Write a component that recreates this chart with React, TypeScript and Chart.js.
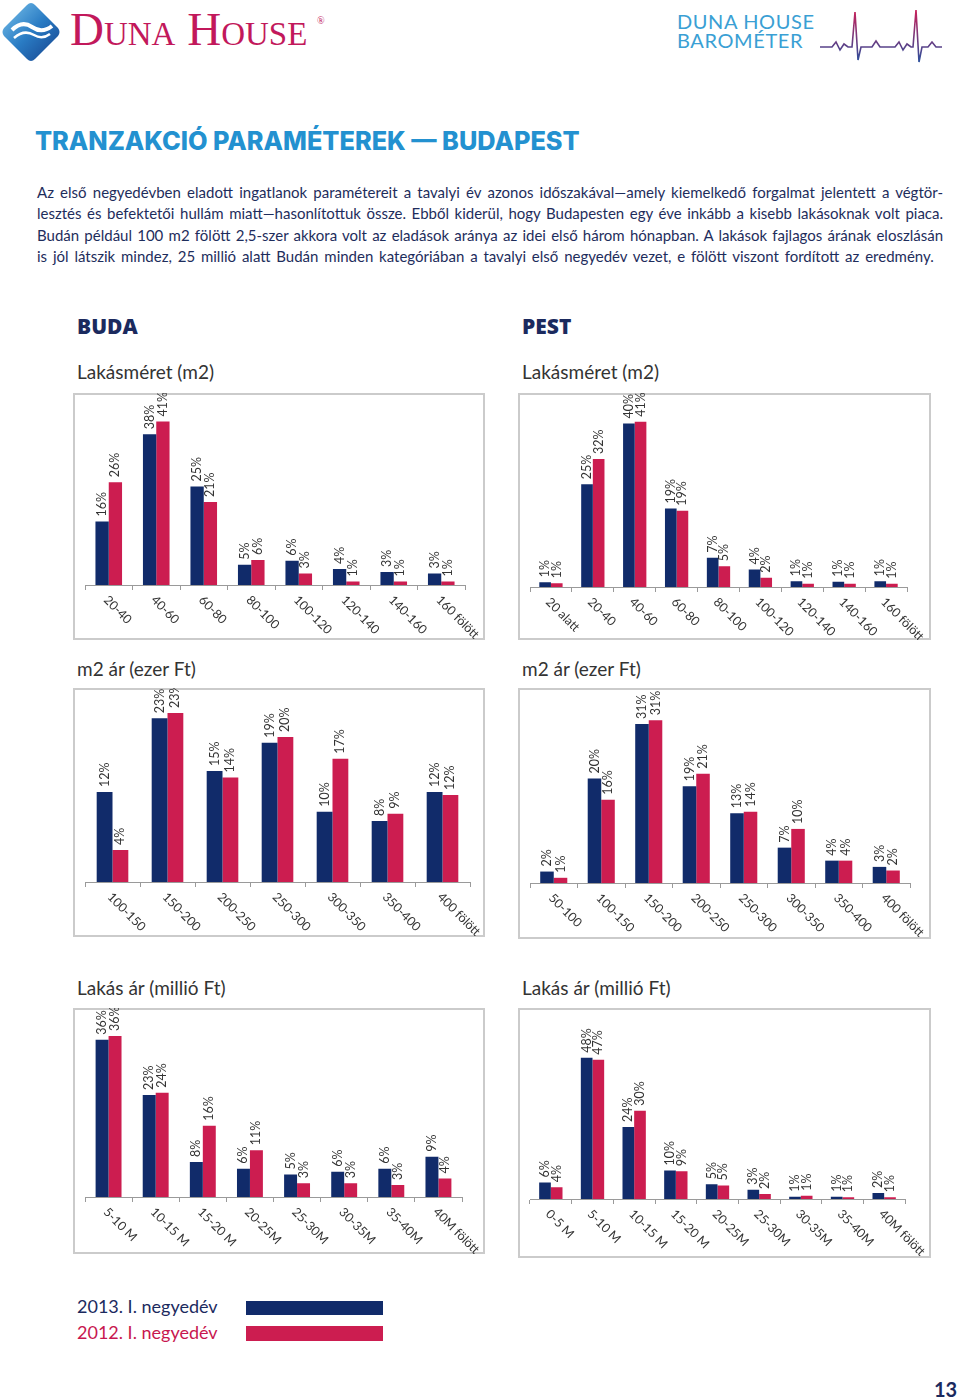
import React, { useEffect, useRef } from 'react';
import { Chart, registerables } from 'chart.js';
Chart.register(...registerables);

const NAVY = '#112b6a';
const CRIMSON = '#cc1d50';

const seriesNames = ['2013. I. negyedév', '2012. I. negyedév'];

const budaSizeCats = ['20-40', '40-60', '60-80', '80-100', '100-120', '120-140', '140-160', '160 fölött'];
const budaSize2013 = [16.0, 38.0, 24.8, 5.1, 6.1, 4.0, 3.3, 2.9];
const budaSize2012 = [25.9, 41.2, 20.9, 6.3, 2.9, 0.9, 0.9, 0.9];

const pestSizeCats = ['20 alatt', '20-40', '40-60', '60-80', '80-100', '100-120', '120-140', '140-160', '160 fölött'];
const pestSize2013 = [1.2, 25.4, 40.4, 19.4, 7.2, 4.3, 1.4, 1.3, 1.4];
const pestSize2012 = [0.9, 31.6, 40.8, 18.8, 5.1, 2.3, 0.8, 0.8, 0.8];

const budaSqmCats = ['100-150', '150-200', '200-250', '250-300', '300-350', '350-400', '400 fölött'];
const budaSqm2013 = [12.4, 22.6, 15.3, 19.2, 9.7, 8.4, 12.4];
const budaSqm2012 = [4.4, 23.3, 14.4, 20.0, 17.0, 9.4, 12.0];

const pestSqmCats = ['50-100', '100-150', '150-200', '200-250', '250-300', '300-350', '350-400', '400 fölött'];
const pestSqm2013 = [2.2, 20.1, 30.6, 18.6, 13.4, 6.8, 4.3, 3.1];
const pestSqm2012 = [1.0, 16.0, 31.3, 21.0, 13.7, 10.4, 4.3, 2.4];

const budaPriceCats = ['5-10 M', '10-15 M', '15-20 M', '20-25M', '25-30M', '30-35M', '35-40M', '40M fölött'];
const budaPrice2013 = [35.6, 23.1, 7.9, 6.4, 5.1, 5.7, 6.4, 9.1];
const budaPrice2012 = [36.4, 23.6, 16.1, 10.6, 3.1, 3.1, 2.7, 4.2];

const pestPriceCats = ['0-5 M', '5-10 M', '10-15 M', '15-20 M', '20-25M', '25-30M', '30-35M', '35-40M', '40M fölött'];
const pestPrice2013 = [5.6, 47.9, 24.4, 9.7, 5.0, 3.1, 0.8, 0.8, 2.0];
const pestPrice2012 = [4.0, 47.2, 29.9, 9.4, 4.6, 1.7, 1.1, 0.6, 0.6];

const paragraphLines = [
  'Az első negyedévben eladott ingatlanok paramétereit a tavalyi év azonos időszakával—amely kiemelkedő forgalmat jelentett a végtör-',
  'lesztés és befektetői hullám miatt—hasonlítottuk össze. Ebből kiderül, hogy Budapesten egy éve inkább a kisebb lakásoknak volt piaca.',
  'Budán például 100 m2 fölött 2,5-szer akkora volt az eladások aránya az idei első három hónapban. A lakások fajlagos árának eloszlásán',
  'is jól látszik mindez, 25 millió alatt Budán minden kategóriában a tavalyi első negyedév vezet, e fölött viszont fordított az eredmény.',
];

type BarProps = {
  labels: string[];
  a: number[];
  b: number[];
  yMax: number;
  frame: [number, number, number, number];
  plotLeft: number;
  plotRight: number;
  axisY: number;
  pxPer: number;
  catPct: number;
};

const TICK_LEN = 5;

function BarChart(p: BarProps) {
  const ref = useRef<HTMLCanvasElement>(null);
  useEffect(() => {
    const [fx, fy, fw, fh] = p.frame;
    const top = p.axisY - p.yMax * p.pxPer;
    const decor = {
      id: 'decor',
      beforeDraw(chart: any) {
        const ctx = chart.ctx;
        ctx.save();
        ctx.fillStyle = '#ffffff';
        ctx.fillRect(0, 0, fw, fh);
        ctx.strokeStyle = '#cbcbcb';
        ctx.lineWidth = 2;
        ctx.strokeRect(1, 1, fw - 2, fh - 2);
        ctx.restore();
      },
      afterDraw(chart: any) {
        const ctx = chart.ctx;
        ctx.save();
        ctx.fillStyle = '#333333';
        ctx.font = '12.5px Lato';
        chart.data.datasets.forEach((ds: any, di: number) => {
          const meta = chart.getDatasetMeta(di);
          meta.data.forEach((el: any, i: number) => {
            const v = ds.data[i] as number;
            ctx.save();
            ctx.translate(el.x, el.y - 5);
            ctx.rotate(-Math.PI / 2);
            ctx.textAlign = 'left';
            ctx.textBaseline = 'middle';
            ctx.fillText(Math.round(v) + '%', 0, 0);
            ctx.restore();
          });
        });
        const xs = chart.scales.x;
        const ay = chart.chartArea.bottom;
        ctx.font = '12.5px Lato';
        (chart.data.labels as string[]).forEach((l, i) => {
          const cx = xs.getPixelForValue(i);
          ctx.save();
          ctx.translate(cx - 3, ay + 13);
          ctx.rotate(Math.PI / 4);
          ctx.textAlign = 'left';
          ctx.textBaseline = 'middle';
          ctx.fillText(l, 0, 0);
          ctx.restore();
        });
        ctx.restore();
      },
    };
    const chart = new Chart(ref.current as HTMLCanvasElement, {
      type: 'bar',
      data: {
        labels: p.labels,
        datasets: [
          { label: seriesNames[0], data: p.a, backgroundColor: NAVY, categoryPercentage: p.catPct, barPercentage: 1, borderWidth: 0 },
          { label: seriesNames[1], data: p.b, backgroundColor: CRIMSON, categoryPercentage: p.catPct, barPercentage: 1, borderWidth: 0 },
        ],
      },
      options: {
        animation: false,
        responsive: false,
        maintainAspectRatio: false,
        layout: {
          padding: {
            left: p.plotLeft - fx,
            right: fx + fw - p.plotRight,
            top: top - fy,
            bottom: fy + fh - p.axisY - TICK_LEN,
          },
        },
        plugins: { legend: { display: false }, tooltip: { enabled: false } },
        scales: {
          x: {
            grid: { display: true, drawOnChartArea: false, drawTicks: true, tickLength: TICK_LEN, color: '#9a9a9a', offset: true },
            border: { display: true, color: '#9a9a9a', width: 1 },
            ticks: { display: false },
          },
          y: { display: false, min: 0, max: p.yMax },
        },
      },
      plugins: [decor],
    } as any);
    return () => chart.destroy();
  }, []);
  const [fx, fy, fw, fh] = p.frame;
  return (
    <canvas
      ref={ref}
      width={fw}
      height={fh}
      style={{ position: 'absolute', left: fx, top: fy, width: fw, height: fh, display: 'block' }}
    />
  );
}

function T(props: { x: number; base: number; size: number; k?: number; style?: React.CSSProperties; children: React.ReactNode }) {
  const k = props.k ?? 0.887;
  return (
    <div
      style={{
        position: 'absolute',
        left: props.x,
        top: props.base - k * props.size,
        fontSize: props.size,
        lineHeight: props.size + 'px',
        whiteSpace: 'nowrap',
        ...props.style,
      }}
    >
      {props.children}
    </div>
  );
}

const heartbeat = [
  [820, 47], [832, 47], [836, 42], [840, 50], [844, 44], [848, 47], [852, 47], [855, 12], [858, 60], [861, 47],
  [872, 47], [876, 41], [880, 47], [895, 47], [899, 42], [903, 50], [907, 44], [911, 47], [913, 47], [916, 10],
  [919, 62], [922, 47], [928, 47], [932, 42], [936, 47], [942, 47],
];

export default function App() {
  const lato = '"Lato", sans-serif';
  const subTitle: React.CSSProperties = { fontFamily: lato, color: '#333333' };
  return (
    <div style={{ position: 'absolute', left: 0, top: 0, width: 960, height: 1400, background: '#ffffff', overflow: 'hidden' }}>
      <svg width={960} height={80} style={{ position: 'absolute', left: 0, top: 0 }}>
        <defs>
          <linearGradient id="dg" x1="0" y1="0" x2="1" y2="1">
            <stop offset="0" stopColor="#7cc4ec" />
            <stop offset="0.5" stopColor="#2a7cc4" />
            <stop offset="1" stopColor="#143f8a" />
          </linearGradient>
          <linearGradient id="hb" x1="0" y1="10" x2="0" y2="62" gradientUnits="userSpaceOnUse">
            <stop offset="0" stopColor="#c8205a" />
            <stop offset="1" stopColor="#2a4f9c" />
          </linearGradient>
        </defs>
        <path d="M31 3 Q33 3 35 5 L58 28 Q61 32 58 36 L35 59 Q31 63 27 59 L4 36 Q1 32 4 28 L27 5 Q29 3 31 3 Z" fill="url(#dg)" />
        <path d="M12 30 Q22 20 32 27 Q42 34 52 26" stroke="#ffffff" strokeWidth={4} fill="none" />
        <path d="M14 38 Q24 29 34 35 Q42 40 50 34" stroke="#ffffff" strokeWidth={2.5} fill="none" />
        <polyline points={heartbeat.map((q) => q.join(',')).join(' ')} fill="none" stroke="url(#hb)" strokeWidth={1.6} />
      </svg>
      <T x={70} base={45} size={47} k={0.837} style={{ fontFamily: '"Liberation Serif", serif', fontVariant: 'small-caps', color: '#c2185b' }}>
        Duna House
      </T>
      <T x={317} base={24} size={10} k={0.837} style={{ fontFamily: '"Liberation Serif", serif', color: '#c2185b' }}>®</T>
      <T x={677} base={29} size={20} style={{ fontFamily: lato, color: '#3a9fd4', letterSpacing: 0.6 }}>DUNA HOUSE</T>
      <T x={677} base={48} size={20} style={{ fontFamily: lato, color: '#3a9fd4', letterSpacing: 0.6 }}>BAROMÉTER</T>

      <T x={35} base={150} size={25.3} k={0.864} style={{ fontFamily: '"Inter", sans-serif', fontWeight: 800, color: '#2391d0' }}>
        TRANZAKCIÓ PARAMÉTEREK — BUDAPEST
      </T>

      {paragraphLines.map((line, i) => (
        <div
          key={i}
          style={{
            position: 'absolute',
            left: 37,
            width: 906,
            top: 198.5 + i * 21.2 - 0.887 * 15,
            fontFamily: lato,
            fontSize: 15,
            lineHeight: '15px',
            color: '#1e2d5c',
            textAlign: i < 3 ? 'justify' : 'left',
            textAlignLast: i < 3 ? 'justify' : 'left',
            whiteSpace: i < 3 ? 'normal' : 'nowrap',
            wordSpacing: i < 3 ? 0 : 2,
          } as React.CSSProperties}
        >
          {line}
        </div>
      ))}

      <T x={77} base={335} size={21} k={0.888} style={{ fontFamily: '"Open Sans", sans-serif', fontWeight: 800, color: '#1b2a5e' }}>BUDA</T>
      <T x={522} base={335} size={21} k={0.888} style={{ fontFamily: '"Open Sans", sans-serif', fontWeight: 800, color: '#1b2a5e' }}>PEST</T>

      <T x={77} base={379} size={19} style={subTitle}>Lakásméret (m2)</T>
      <T x={522} base={379} size={19} style={subTitle}>Lakásméret (m2)</T>
      <T x={77} base={676} size={19} style={subTitle}>m2 ár (ezer Ft)</T>
      <T x={522} base={676} size={19} style={subTitle}>m2 ár (ezer Ft)</T>
      <T x={77} base={995} size={19} style={subTitle}>Lakás ár (millió Ft)</T>
      <T x={522} base={995} size={19} style={subTitle}>Lakás ár (millió Ft)</T>

      <BarChart labels={budaSizeCats} a={budaSize2013} b={budaSize2012} yMax={45} frame={[73, 393, 412, 247]} plotLeft={85} plotRight={465} axisY={585} pxPer={3.97} catPct={0.56} />
      <BarChart labels={pestSizeCats} a={pestSize2013} b={pestSize2012} yMax={45} frame={[518, 393, 413, 247]} plotLeft={530} plotRight={907} axisY={587} pxPer={4.05} catPct={0.556} />
      <BarChart labels={budaSqmCats} a={budaSqm2013} b={budaSqm2012} yMax={25} frame={[73, 688, 412, 249]} plotLeft={85} plotRight={470} axisY={882} pxPer={7.25} catPct={0.575} />
      <BarChart labels={pestSqmCats} a={pestSqm2013} b={pestSqm2012} yMax={35} frame={[518, 688, 413, 251]} plotLeft={530} plotRight={910} axisY={883} pxPer={5.2} catPct={0.57} />
      <BarChart labels={budaPriceCats} a={budaPrice2013} b={budaPrice2012} yMax={40} frame={[73, 1008, 412, 246]} plotLeft={85} plotRight={462} axisY={1197} pxPer={4.42} catPct={0.55} />
      <BarChart labels={pestPriceCats} a={pestPrice2013} b={pestPrice2012} yMax={55} frame={[518, 1008, 413, 250]} plotLeft={530} plotRight={905} axisY={1199} pxPer={2.95} catPct={0.56} />

      <T x={77} base={1313} size={18} style={{ fontFamily: lato, color: '#1b2a5e' }}>{seriesNames[0]}</T>
      <T x={77} base={1339} size={18} style={{ fontFamily: lato, color: '#c8174f' }}>{seriesNames[1]}</T>
      <div style={{ position: 'absolute', left: 246, top: 1301, width: 137, height: 14, background: NAVY }} />
      <div style={{ position: 'absolute', left: 246, top: 1326, width: 137, height: 15, background: CRIMSON }} />

      <T x={934} base={1397} size={20} style={{ fontFamily: lato, fontWeight: 700, color: '#1b2a5e' }}>13</T>
    </div>
  );
}
